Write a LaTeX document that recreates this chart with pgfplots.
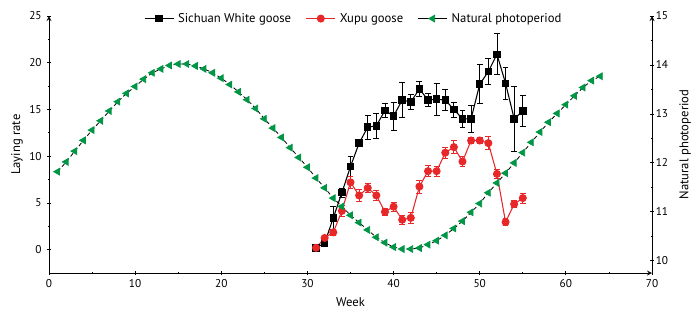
\documentclass[border=0pt]{standalone}
\usepackage{fontspec}
\setmainfont{PT Sans}
\usepackage{pgfplots}
\usepackage{pgfplotstable}
\pgfplotsset{compat=1.18}
\definecolor{mygreen}{RGB}{0,150,70}
\definecolor{myred}{RGB}{232,40,40}

\pgfplotstableread{
week val err
31 0.2 0.1
32 0.7 0.4
33 3.4 1.2
34 6.1 0.5
35 8.9 1.07
36 11.4 0.2
37 13.1 1.3
38 13.25 1.35
39 14.9 0.8
40 14.3 1.5
41 16.0 1.85
42 15.8 0.8
43 17.2 0.75
44 16.0 0.7
45 16.1 1.7
46 16.0 1.1
47 15.0 0.8
48 14.0 0.9
49 14.0 1.45
50 17.7 2.1
51 19.05 1.4
52 20.9 2.2
53 17.8 1.7
54 14.0 3.5
55 14.85 1.7
}\sichuan

\pgfplotstableread{
week val err
31 0.2 0.15
32 1.25 0.3
33 1.85 0.3
34 4.15 0.6
35 7.2 0.6
36 5.8 0.6
37 6.6 0.5
38 5.8 0.5
39 4.05 0.4
40 4.6 0.5
41 3.2 0.5
42 3.4 0.55
43 6.75 0.7
44 8.4 0.6
45 8.4 0.55
46 10.37 0.6
47 10.97 0.7
48 9.43 0.55
49 11.68 0.3
50 11.68 0.3
51 11.4 0.7
52 8.1 0.45
53 2.95 0.35
54 4.88 0.35
55 5.52 0.55
}\xupu

\pgfplotstableread{
week val
1 11.82
2 12.02
3 12.24
4 12.46
5 12.67
6 12.86
7 13.06
8 13.25
9 13.42
10 13.56
11 13.71
12 13.84
13 13.92
14 13.99
15 14.02
16 14.02
17 13.98
18 13.92
19 13.84
20 13.73
21 13.60
22 13.45
23 13.29
24 13.11
25 12.90
26 12.71
27 12.52
28 12.31
29 12.11
30 11.91
31 11.69
32 11.49
33 11.28
34 11.11
35 10.93
36 10.78
37 10.63
38 10.48
39 10.37
40 10.28
41 10.24
42 10.24
43 10.26
44 10.33
45 10.41
46 10.52
47 10.66
48 10.81
49 10.99
50 11.17
51 11.39
52 11.59
53 11.79
54 12.00
55 12.21
56 12.42
57 12.63
58 12.83
59 13.01
60 13.19
61 13.37
62 13.54
63 13.68
64 13.77
}\photo

\pgfplotsset{
  common/.style={
    scale only axis,
    width=452.25pt, height=192.75pt,
    xmin=0, xmax=70,
    tick align=outside,
    major tick length=3pt,
    minor tick length=1.8pt,
    axis line style={-, line width=0.7pt},
    every tick/.style={line width=0.6pt, black},
    tick label style={font=\fontsize{8.5}{10}\selectfont},
    label style={font=\fontsize{9.5}{11}\selectfont},
    /pgf/number format/assume math mode=true,
    clip=false,
  },
  legend image code/.code={\draw[mark repeat=2,mark phase=2] plot coordinates {(0cm,0cm) (0.38cm,0cm) (0.76cm,0cm)};},
}

\begin{document}
\begin{tikzpicture}
\begin{axis}[common, name=main,
  axis x line=bottom, axis y line=left,
  ymin=-2.5, ymax=25,
  xtick={0,10,...,70}, minor x tick num=1,
  ytick={0,5,...,25}, minor y tick num=1,
  yticklabel style={xshift=-0.5pt},
  xlabel={Week}, ylabel={Laying rate},
  xlabel style={at={(axis description cs:0.5,-0.113)}, anchor=center},
  ylabel style={at={(axis description cs:-0.053,0.5)}, anchor=center},
]
\addplot[black, line width=0.8pt, mark=square*, mark size=2.4pt,
  error bars/.cd, y dir=both, y explicit,
  error bar style={black, line width=0.6pt},
  error mark options={rotate=90, black, mark size=2.2pt, line width=0.6pt}]
  table[x=week, y=val, y error=err] {\sichuan};
\addplot[myred, line width=0.8pt, mark=*, mark size=2.6pt, mark options={fill=myred, draw=myred},
  error bars/.cd, y dir=both, y explicit,
  error bar style={myred, line width=0.6pt},
  error mark options={rotate=90, myred, mark size=2.2pt, line width=0.6pt}]
  table[x=week, y=val, y error=err] {\xupu};
\end{axis}
\begin{axis}[common,
  axis x line=none, axis y line=right,
  ymin=9.75, ymax=15,
  ytick={10,11,...,15}, minor y tick num=1,
  yticklabel style={xshift=-2.2pt},
  legend style={at={(0.506,0.99)}, anchor=center, draw=none, fill=none,
    legend columns=3, font=\fontsize{9.5}{11}\selectfont,
    /tikz/every even column/.append style={column sep=9pt},
    /tikz/every odd column/.append style={column sep=1pt}},
]
\addlegendimage{black, line width=0.8pt, mark=square*, mark size=2.4pt}
\addlegendentry{Sichuan White goose}
\addlegendimage{myred, line width=0.8pt, mark=*, mark size=2.6pt, mark options={fill=myred, draw=myred}}
\addlegendentry{Xupu goose}
\addlegendimage{black, line width=0.7pt, mark=triangle*, mark size=2.9pt, mark options={fill=mygreen, draw=mygreen, rotate=90}}
\addlegendentry{Natural photoperiod}
\addplot[forget plot, black, densely dashed, line width=0.6pt, mark=triangle*, mark size=2.9pt,
  mark options={solid, fill=mygreen, draw=mygreen, rotate=90}]
  table[x=week, y=val] {\photo};
\node[rotate=90, anchor=center, font=\fontsize{9.5}{11}\selectfont] at (rel axis cs:1.055,0.5) {Natural photoperiod};
\end{axis}
\pgfresetboundingbox
\path[use as bounding box] ([shift={(-36.75pt,-32.25pt)}]main.south west) rectangle ([shift={(29.25pt,12pt)}]main.north east);
\end{tikzpicture}
\end{document}
